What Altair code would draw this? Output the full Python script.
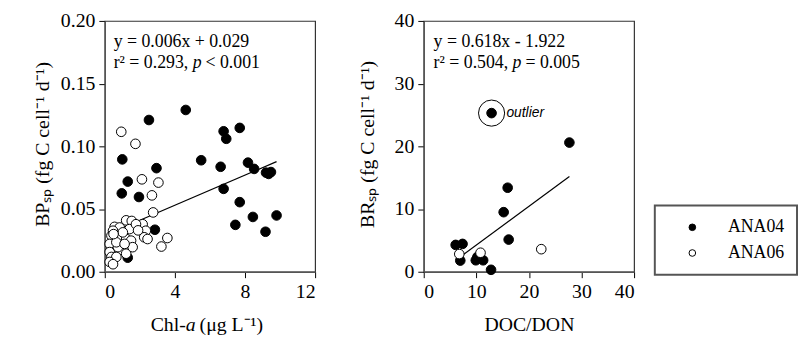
import altair as alt
import pandas as pd

# ---------------- data ----------------
# Left panel: BPsp vs Chl-a
chl_ana04 = [4.62, 2.52, 1.00, 2.95, 5.50, 1.31, 6.78, 7.70, 6.93, 6.61, 8.17, 8.52, 9.20, 9.48, 9.35,
             6.78, 7.70, 8.45, 9.80, 7.45, 9.17, 0.97, 1.95, 2.86, 1.31, 1.30, 0.80]
bp_ana04 = [0.129, 0.121, 0.0896, 0.0826, 0.0889, 0.0719, 0.112, 0.1147, 0.106, 0.0837, 0.087, 0.082, 0.079,
            0.0795, 0.078, 0.0661, 0.0555, 0.0437, 0.0449, 0.0374, 0.0319, 0.0625, 0.0596, 0.0335, 0.0112,
            0.0235, 0.030]
chl_ana06 = [0.94, 1.75, 2.12, 3.06, 2.69, 2.76, 1.22, 1.54, 0.56, 0.85, 2.16, 2.34, 1.41, 0.38, 0.75, 1.22,
             1.50, 0.28, 0.75, 1.22, 0.28, 0.38, 0.66, 0.28, 0.47, 2.25, 2.44, 3.57, 3.23, 1.03, 1.78, 0.47,
             0.66, 1.59, 1.13, 0.50, 1.90]
bp_ana06 = [0.1116, 0.102, 0.0737, 0.0711, 0.0609, 0.0473, 0.041, 0.0405, 0.0358, 0.0353, 0.0379, 0.0327,
            0.034, 0.0288, 0.0261, 0.0261, 0.0248, 0.0222, 0.0196, 0.0144, 0.0157, 0.0118, 0.0118, 0.0078,
            0.006, 0.0275, 0.0261, 0.0269, 0.0201, 0.0314, 0.0379, 0.0327, 0.0235, 0.0196, 0.0222, 0.030,
            0.033]

# Right panel: BRsp vs DOC/DON
docdon_ana04 = [27.7, 15.96, 15.2, 16.15, 6.07, 7.38, 6.95, 9.9, 11.3, 10.2, 12.8]
br_ana04 = [20.6, 13.4, 9.5, 5.13, 4.28, 4.44, 1.78, 1.83, 1.83, 2.35, 0.31]
docdon_ana06 = [6.76, 10.8, 22.35]
br_ana06 = [2.82, 3.03, 3.6]
outlier_x = [12.9]
outlier_y = [25.3]

# regression equations printed on the figure
left_fit = (0.006, 0.029)
right_fit = (0.618, -1.922)

cruises = ["ANA04", "ANA06"]

SERIF = "Liberation Serif"

# ---------------- tables ----------------
left_df = pd.concat([
    pd.DataFrame({"x": chl_ana04, "y": bp_ana04, "cruise": cruises[0]}),
    pd.DataFrame({"x": chl_ana06, "y": bp_ana06, "cruise": cruises[1]}),
])
right_df = pd.concat([
    pd.DataFrame({"x": docdon_ana04, "y": br_ana04, "cruise": cruises[0]}),
    pd.DataFrame({"x": docdon_ana06, "y": br_ana06, "cruise": cruises[1]}),
    pd.DataFrame({"x": outlier_x, "y": outlier_y, "cruise": cruises[0]}),
])
out_df = pd.DataFrame({"x": outlier_x, "y": outlier_y})

lx = [min(chl_ana04 + chl_ana06), max(chl_ana04 + chl_ana06)]
left_line = pd.DataFrame({"x": lx, "y": [left_fit[0] * v + left_fit[1] for v in lx]})
rx = [6.2, max(docdon_ana04)]
right_line = pd.DataFrame({"x": rx, "y": [right_fit[0] * v + right_fit[1] for v in rx]})

fill_scale = alt.Scale(domain=cruises, range=["black", "white"])


def txt(s, x, y, size=18, style="normal", align="left", angle=0, baseline="alphabetic", font=SERIF):
    kw = dict(align=align, baseline=baseline, font=font, fontSize=size, fontStyle=style, color="black")
    if angle:
        kw["angle"] = angle
    return alt.Chart(pd.DataFrame({"t": [s]})).mark_text(**kw).encode(
        x=alt.value(x), y=alt.value(y), text="t:N")


def panel(df, line_df, xdom, xticks, ydom, yticks, yfmt):
    xs = alt.Scale(domain=xdom, nice=False)
    ys = alt.Scale(domain=ydom, nice=False)
    pts = alt.Chart(df).mark_circle(size=95, opacity=1, stroke="black", strokeWidth=1).encode(
        x=alt.X("x:Q", scale=xs, axis=alt.Axis(values=xticks, title=None, grid=False)),
        y=alt.Y("y:Q", scale=ys, axis=alt.Axis(values=yticks, title=None, grid=False, format=yfmt)),
        fill=alt.Fill("cruise:N", scale=fill_scale, legend=alt.Legend(
            title=None, orient="none", legendX=557, legendY=187,
            padding=13, rowPadding=8, symbolOffset=16, labelOffset=27,
            symbolType="circle", symbolSize=45, symbolStrokeColor="black", symbolStrokeWidth=1,
            labelFont=SERIF, labelFontSize=18, labelColor="black",
            strokeColor="#555555", fillColor="white")),
    )
    ln = alt.Chart(line_df).mark_line(color="black", strokeWidth=1.2).encode(
        x=alt.X("x:Q", scale=xs), y=alt.Y("y:Q", scale=ys))
    return xs, ys, pts, ln


anchor = alt.Chart(pd.DataFrame({"a": [0]})).mark_rule(strokeOpacity=0).encode(
    x=alt.value(-97), x2=alt.value(-97), y=alt.value(-8), y2=alt.value(250))

xs, ys, lpts, lln = panel(left_df, left_line, [0, 12], [0, 4, 8, 12], [0, 0.2],
                          [0, 0.05, 0.10, 0.15, 0.20], ".2f")
left = alt.layer(
    anchor, lln, lpts,
    txt("y = 0.006x + 0.029", 9, 26),
    txt("r² = 0.293, ", 9, 48),
    txt("p", 89, 48, style="italic"),
    txt("< 0.001", 102, 48),
    txt("Chl-", 82, 314, size=20, align="right"),
    txt("a", 82, 314, size=20, style="italic"),
    txt("(μg L⁻¹)", 96, 314, size=20),
    txt("BPₛₚ (fg C cell⁻¹ d⁻¹)", -62, 125, size=20, align="center", angle=270, baseline="middle"),
).properties(width=213, height=254)

xs2, ys2, rpts, rln = panel(right_df, right_line, [0, 40], [0, 10, 20, 30, 40], [0, 40],
                            [0, 10, 20, 30, 40], "d")
ring = alt.Chart(out_df).mark_point(shape="circle", size=700, filled=False, color="black",
                                    strokeWidth=1, opacity=1).encode(
    x=alt.X("x:Q", scale=xs2), y=alt.Y("y:Q", scale=ys2))
otext = alt.Chart(out_df).mark_text(align="left", baseline="middle", dx=15, font="Liberation Sans",
                                    fontSize=14, fontStyle="italic", color="black").encode(
    x=alt.X("x:Q", scale=xs2), y=alt.Y("y:Q", scale=ys2), text=alt.value("outlier"))
right = alt.layer(
    rln, rpts, ring, otext,
    txt("y = 0.618x - 1.922", 10, 26),
    txt("r² = 0.504, ", 10, 48),
    txt("p", 90, 48, style="italic"),
    txt("= 0.005", 103, 48),
    txt("DOC/DON", 107, 314, size=20, align="center"),
    txt("BRₛₚ (fg C cell⁻¹ d⁻¹)", -56, 125, size=20, align="center", angle=270, baseline="middle"),
).properties(width=213, height=254)

chart = alt.hconcat(left, right, spacing=110, bounds="flush").properties(
    padding=0
).configure_view(stroke="#333333", strokeWidth=1.2).configure_axis(
    labelFont=SERIF, labelFontSize=20, labelColor="black", labelPadding=4,
    tickColor="black", tickSize=6, tickWidth=1, domainColor="#555555", domainWidth=1.5,
).configure_legend(strokeWidth=2)

chart.save("out.html", embed_options={"renderer": "svg", "actions": False})
